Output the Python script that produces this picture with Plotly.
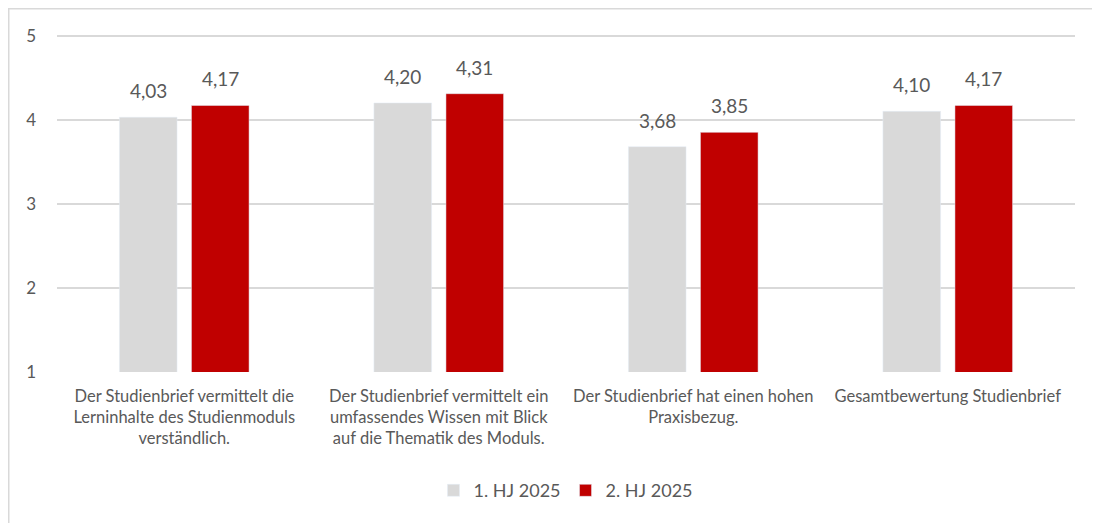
import plotly.graph_objects as go

categories = [
    "Der Studienbrief vermittelt die<br>Lerninhalte des Studienmoduls<br>verständlich.",
    "Der Studienbrief vermittelt ein<br>umfassendes Wissen mit Blick<br>auf die Thematik des Moduls.",
    "Der Studienbrief hat einen hohen<br>Praxisbezug.",
    "Gesamtbewertung Studienbrief",
]
series_names = ["1. HJ 2025", "2. HJ 2025"]
hj1 = [4.03, 4.20, 3.68, 4.10]
hj2 = [4.17, 4.31, 3.85, 4.17]
y_ticks = [1, 2, 3, 4, 5]

FONT = "Lato, Noto Sans, sans-serif"
TXT = "#595959"
COLORS = ["#D9D9D9", "#C00000"]

fig = go.Figure()
for name, vals, col in zip(series_names, [hj1, hj2], COLORS):
    fig.add_trace(go.Bar(x=categories, y=vals, name=name, marker_color=col))

annotations = []
for vals, shift in [(hj1, -36), (hj2, 36)]:
    for c, v in zip(categories, vals):
        annotations.append(dict(
            x=c, y=v, xref="x", yref="y", text=f"{v:.2f}".replace(".", ","),
            showarrow=False, xanchor="center", yanchor="bottom", xshift=shift, yshift=13,
            font=dict(size=19, color=TXT, family=FONT),
        ))

fig.update_layout(
    width=1092, height=515,
    barmode="group", bargap=0.434, bargroupgap=0.2,
    plot_bgcolor="white", paper_bgcolor="white",
    margin=dict(l=49, r=25, t=26, b=151),
    font=dict(family=FONT, color=TXT, size=16),
    showlegend=True,
    legend=dict(orientation="h", x=0.5, xanchor="center", y=-0.351, yanchor="middle",
                font=dict(size=18, color=TXT, family=FONT), traceorder="normal",
                itemwidth=30),
    yaxis=dict(range=[1, 5.02], tickvals=y_ticks, showgrid=True, gridcolor="#D9D9D9",
               gridwidth=1.5, zeroline=False, showline=False,
               tickfont=dict(size=17, color=TXT, family=FONT), ticklabelstandoff=20),
    xaxis=dict(showline=False, showgrid=False, tickfont=dict(size=16.5, color=TXT, family=FONT),
               ticklabelstandoff=12),
    annotations=annotations,
    shapes=[
        dict(type="line", xref="paper", yref="paper", x0=-0.0474, x1=-0.0474, y0=1.08, y1=-0.45,
             line=dict(color="#D9D9D9", width=1.5)),
        dict(type="line", xref="paper", yref="paper", x0=-0.0474, x1=1.03, y0=1.075, y1=1.075,
             line=dict(color="#D9D9D9", width=1.5)),
    ],
)

fig.write_html("out.html")
